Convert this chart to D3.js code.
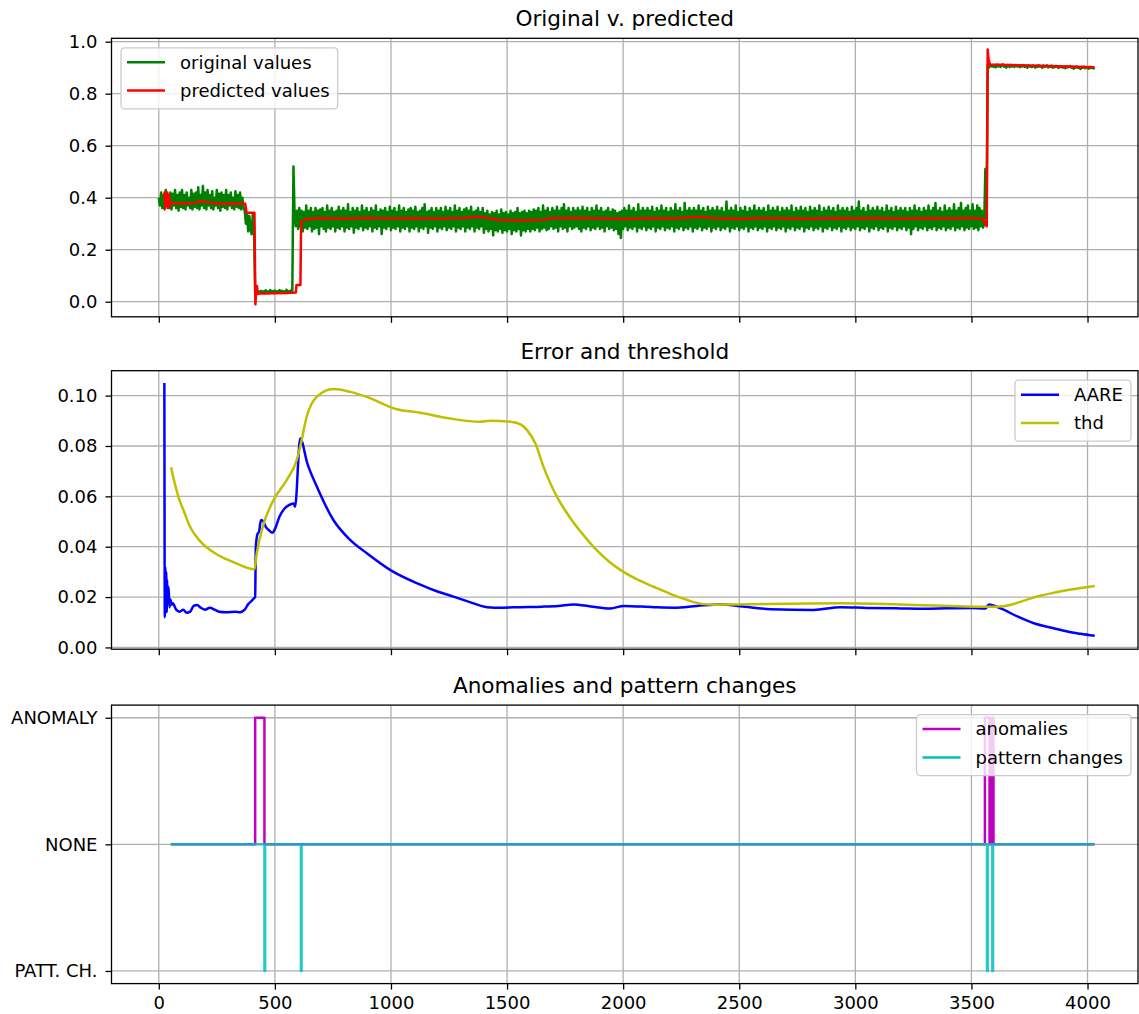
<!DOCTYPE html>
<html>
<head>
<meta charset="utf-8">
<script src="https://cdn.jsdelivr.net/npm/d3@7"></script>
<style>
  body { margin: 0; background: #fff; }
  svg { font-family: "DejaVu Sans", sans-serif; }
</style>
</head>
<body>
<div id="chart"></div>
<script>

// ---- shared x ticks ----
const xTicks = [0, 500, 1000, 1500, 2000, 2500, 3000, 3500, 4000]

// ---- top panel: original values, one sample every 5 steps from 0 (20 per row = 100 steps) ----
const origStep = 5
const origVals = [
  0.40,0.37,0.42,0.36,0.41,0.355,0.43,0.37,0.40,0.36,0.42,0.355,0.415,0.37,0.43,0.36,0.41,0.35,0.42,0.365,
  0.43,0.36,0.41,0.355,0.42,0.37,0.40,0.36,0.43,0.355,0.415,0.365,0.42,0.36,0.44,0.355,0.41,0.37,0.445,0.36,
  0.42,0.355,0.43,0.37,0.41,0.36,0.425,0.355,0.40,0.37,0.43,0.36,0.415,0.35,0.42,0.365,0.41,0.36,0.43,0.355,
  0.41,0.37,0.42,0.36,0.40,0.355,0.425,0.365,0.41,0.36,0.42,0.355,0.40,0.36,0.35,0.30,0.34,0.27,0.33,0.28,
  0.26,0.34,0.29,0.035,0.045,0.03,0.04,0.033,0.042,0.036,0.04,0.032,0.044,0.035,0.04,0.033,0.045,0.036,0.041,0.034,
  0.043,0.035,0.04,0.037,0.045,0.034,0.042,0.038,0.04,0.035,0.046,0.037,0.041,0.036,0.044,0.038,0.52,0.33,0.29,0.35,
  0.28,0.36,0.29,0.35,0.27,0.345,0.285,0.37,0.28,0.35,0.29,0.36,0.27,0.345,0.28,0.36,0.285,0.35,0.26,0.355,
  0.29,0.36,0.28,0.345,0.27,0.37,0.285,0.35,0.28,0.36,0.29,0.345,0.27,0.35,0.285,0.365,0.28,0.35,0.29,0.36,
  0.27,0.35,0.285,0.375,0.28,0.345,0.29,0.36,0.265,0.35,0.285,0.36,0.28,0.345,0.29,0.37,0.275,0.35,0.285,0.36,
  0.28,0.345,0.29,0.36,0.27,0.35,0.285,0.37,0.28,0.345,0.29,0.355,0.26,0.35,0.285,0.36,0.28,0.345,0.29,0.365,
  0.275,0.35,0.285,0.36,0.28,0.345,0.29,0.37,0.27,0.35,0.285,0.36,0.28,0.345,0.29,0.355,0.27,0.36,0.285,0.35,
  0.28,0.365,0.29,0.345,0.27,0.35,0.285,0.36,0.28,0.375,0.29,0.345,0.265,0.35,0.285,0.36,0.28,0.345,0.29,0.36,
  0.27,0.35,0.285,0.36,0.28,0.345,0.29,0.365,0.275,0.35,0.285,0.36,0.28,0.345,0.29,0.37,0.27,0.35,0.285,0.36,
  0.28,0.345,0.29,0.355,0.27,0.36,0.285,0.35,0.28,0.365,0.29,0.345,0.27,0.35,0.285,0.36,0.28,0.345,0.29,0.36,
  0.265,0.34,0.28,0.35,0.27,0.335,0.28,0.345,0.255,0.34,0.275,0.35,0.27,0.335,0.28,0.355,0.265,0.34,0.275,0.345,
  0.27,0.335,0.28,0.35,0.26,0.34,0.275,0.345,0.27,0.36,0.28,0.34,0.255,0.345,0.275,0.35,0.27,0.34,0.28,0.35,
  0.27,0.345,0.28,0.355,0.275,0.35,0.285,0.36,0.27,0.345,0.28,0.37,0.285,0.35,0.275,0.36,0.28,0.345,0.29,0.36,
  0.28,0.35,0.285,0.365,0.27,0.35,0.29,0.36,0.28,0.375,0.285,0.35,0.27,0.36,0.29,0.345,0.28,0.36,0.285,0.35,
  0.29,0.36,0.28,0.35,0.27,0.365,0.285,0.35,0.28,0.36,0.29,0.345,0.275,0.36,0.285,0.35,0.28,0.37,0.29,0.35,
  0.28,0.36,0.285,0.345,0.27,0.35,0.29,0.36,0.28,0.345,0.285,0.355,0.275,0.35,0.28,0.34,0.26,0.345,0.245,0.35,
  0.28,0.36,0.29,0.35,0.275,0.37,0.285,0.35,0.28,0.36,0.29,0.345,0.27,0.375,0.285,0.35,0.28,0.36,0.29,0.35,
  0.275,0.36,0.285,0.35,0.28,0.365,0.29,0.345,0.27,0.36,0.285,0.35,0.28,0.37,0.29,0.35,0.275,0.36,0.285,0.345,
  0.28,0.36,0.29,0.35,0.27,0.375,0.285,0.35,0.28,0.36,0.29,0.345,0.275,0.38,0.285,0.35,0.28,0.36,0.29,0.35,
  0.27,0.36,0.285,0.35,0.28,0.37,0.29,0.35,0.275,0.36,0.285,0.345,0.28,0.365,0.29,0.35,0.27,0.36,0.285,0.35,
  0.28,0.365,0.29,0.35,0.275,0.36,0.285,0.345,0.28,0.385,0.29,0.35,0.27,0.36,0.285,0.35,0.28,0.37,0.29,0.345,
  0.275,0.36,0.285,0.35,0.28,0.365,0.29,0.345,0.27,0.36,0.285,0.35,0.28,0.37,0.29,0.35,0.275,0.36,0.285,0.35,
  0.28,0.36,0.29,0.345,0.27,0.37,0.285,0.35,0.28,0.36,0.29,0.35,0.275,0.365,0.285,0.345,0.28,0.36,0.29,0.35,
  0.27,0.36,0.285,0.35,0.28,0.37,0.29,0.345,0.275,0.36,0.285,0.35,0.28,0.365,0.29,0.35,0.27,0.36,0.285,0.345,
  0.28,0.365,0.29,0.35,0.275,0.36,0.285,0.35,0.28,0.37,0.29,0.345,0.27,0.36,0.285,0.35,0.28,0.365,0.29,0.35,
  0.275,0.36,0.285,0.345,0.28,0.37,0.29,0.35,0.27,0.36,0.285,0.35,0.28,0.36,0.29,0.345,0.275,0.365,0.285,0.35,
  0.28,0.36,0.29,0.385,0.275,0.35,0.285,0.36,0.28,0.345,0.29,0.37,0.27,0.35,0.285,0.36,0.28,0.35,0.29,0.365,
  0.275,0.35,0.285,0.36,0.28,0.345,0.29,0.37,0.27,0.35,0.285,0.36,0.28,0.345,0.29,0.365,0.275,0.35,0.285,0.36,
  0.28,0.35,0.29,0.36,0.275,0.345,0.285,0.36,0.26,0.35,0.28,0.37,0.29,0.35,0.275,0.36,0.285,0.345,0.28,0.36,
  0.29,0.35,0.275,0.37,0.285,0.35,0.28,0.36,0.29,0.38,0.275,0.35,0.285,0.36,0.28,0.345,0.29,0.37,0.275,0.35,
  0.285,0.36,0.28,0.35,0.29,0.375,0.275,0.35,0.285,0.36,0.28,0.38,0.29,0.35,0.275,0.36,0.285,0.37,0.28,0.35,
  0.29,0.375,0.28,0.35,0.285,0.37,0.275,0.36,0.29,0.35,0.285,0.30,0.51,0.32,0.91,0.90,0.912,0.905,0.91,0.903,
  0.908,0.902,0.912,0.905,0.91,0.903,0.909,0.913,0.904,0.908,0.90,0.91,0.906,0.902,0.911,0.905,0.908,0.903,0.91,0.906,
  0.904,0.909,0.902,0.908,0.905,0.91,0.903,0.907,0.90,0.909,0.904,0.906,0.902,0.908,0.905,0.90,0.907,0.903,0.909,0.904,
  0.906,0.90,0.908,0.903,0.905,0.909,0.901,0.906,0.903,0.908,0.90,0.905,0.902,0.907,0.904,0.899,0.906,0.902,0.905,0.90,
  0.904,0.898,0.906,0.901,0.903,0.907,0.90,0.904,0.896,0.903,0.90,0.905,0.899,0.902,0.895,0.903,0.90,0.904,0.898,0.902,
  0.90,0.896,0.903,0.899,0.902,0.897,0.901
]

// predicted values (breakpoints)
const predX = [22,25,28,31,34,37,40,44,48,55,100,150,180,210,250,300,372,378,412,416,
  419,423,427,435,500,550,590,593,610,613,640,700,800,900,1000,1100,1200,1300,1385,1420,
  1470,1560,1660,1680,1800,1900,2000,2100,2200,2333,2400,2500,2600,2700,2800,2900,3000,3100,3200,3300,
  3400,3500,3550,3560,3566,3570,3574,3580,3700,3800,3900,4030]
const predY = [0.40,0.42,0.36,0.42,0.37,0.42,0.36,0.41,0.37,0.38,0.378,0.380,0.386,0.384,0.378,0.378,0.377,0.342,0.342,-0.01,
  0.035,0.06,0.03,0.032,0.033,0.034,0.035,0.064,0.064,0.31,0.318,0.321,0.319,0.322,0.320,0.321,0.319,0.322,0.327,0.321,
  0.314,0.312,0.315,0.321,0.322,0.320,0.318,0.321,0.320,0.327,0.321,0.318,0.322,0.320,0.319,0.321,0.320,0.322,0.319,0.321,
  0.320,0.322,0.318,0.30,0.29,0.97,0.93,0.912,0.909,0.907,0.905,0.902]

// ---- middle panel ----
const aareX = [24,26,28,30,32,34,36,38,42,46,50,55,60,75,90,105,120,135,150,165,
  180,200,220,240,260,290,330,350,370,385,400,410,415,418,425,432,440,450,460,475,
  490,500,520,540,560,580,587,609,640,681,752,824,896,996,1111,1200,1269,1340,1413,1480,
  1557,1650,1720,1787,1860,1945,2003,2131,2220,2318,2419,2505,2634,2821,2936,3050,3195,3300,3400,3500,
  3561,3575,3626,3700,3769,3850,3913,3970,4031]
const aareY = [0.105,0.012,0.032,0.016,0.030,0.014,0.027,0.017,0.024,0.016,0.019,0.017,0.0175,0.0150,0.0142,0.0150,0.0138,0.0142,0.0165,0.0169,
  0.0158,0.0150,0.0158,0.0150,0.0142,0.0140,0.0142,0.0140,0.0150,0.0172,0.0185,0.0195,0.0200,0.040,0.045,0.046,0.0506,0.0500,0.0480,0.0465,
  0.0455,0.0470,0.0520,0.0550,0.0565,0.0572,0.0559,0.083,0.073,0.0638,0.0506,0.0427,0.0374,0.0308,0.0255,0.0222,0.0202,0.0180,0.0160,0.0158,
  0.0160,0.0162,0.0165,0.0171,0.0163,0.0155,0.0165,0.0160,0.0158,0.0165,0.0171,0.0164,0.0152,0.0149,0.0160,0.0157,0.0155,0.0154,0.0156,0.0157,
  0.0155,0.0171,0.0155,0.0122,0.0096,0.0077,0.0063,0.0054,0.0046]

const thdX = [53,65,77,91,106,134,177,249,321,412,422,450,494,551,594,609,637,680,752,824,
  896,1025,1126,1255,1384,1427,1514,1560,1586,1622,1657,1715,1750,1787,1830,1887,1940,1988,2060,2131,
  2200,2252,2300,2347,2400,2491,2936,3195,3569,3640,3680,3720,3760,3800,3860,3920,3980,4031]
const thdY = [0.0716,0.0665,0.0623,0.0580,0.0546,0.0480,0.0423,0.0370,0.0339,0.0310,0.0374,0.0486,0.0585,0.0665,0.0744,0.0797,0.0916,0.0995,0.1026,0.1015,
  0.0995,0.0946,0.0932,0.0909,0.0896,0.0900,0.0896,0.0885,0.0863,0.0810,0.0717,0.0598,0.0545,0.0495,0.0445,0.0385,0.0340,0.0308,0.0270,0.0241,
  0.0214,0.0196,0.0181,0.0172,0.0170,0.0171,0.0175,0.0171,0.0162,0.0164,0.0172,0.0184,0.0196,0.0206,0.0218,0.0229,0.0237,0.0244]

// ---- bottom panel (1 = anomaly, 0 = none, -1 = pattern change), step after ----
const anomX = [52, 415, 455, 3558, 3578, 3586, 3595, 4030]
const anomY = [0, 1, 0, 1, 0, 1, 0, 0]
const pattX = [52, 455, 458, 612, 615, 3567, 3570, 3590, 3593, 4030]
const pattY = [0, -1, 0, -1, 0, -1, 0, -1, 0, 0]

const yTicksTop = [0, 0.2, 0.4, 0.6, 0.8, 1.0]
const yTicksMid = [0, 0.02, 0.04, 0.06, 0.08, 0.10]
const yTicksBot = [-1, 0, 1]
const stateLabels = {"-1": "PATT. CH.", "0": "NONE", "1": "ANOMALY"}


// layout
const W = 1139, H = 1014
const left = 111.5, right = 1138, plotH = 278.5

const svg = d3.select("#chart").append("svg")
  .attr("width", W).attr("height", H)

const x = d3.scaleLinear().domain([-203.7, 4217.4]).range([left, right])

function drawPanel(cfg) {
  const g = svg.append("g").attr("transform", "translate(0," + cfg.top + ")")
  const y = d3.scaleLinear().domain(cfg.yDomain).range([plotH, 0])

  // grid
  g.append("g").selectAll("line").data(xTicks).join("line")
    .attr("x1", d => x(d)).attr("x2", d => x(d))
    .attr("y1", 0).attr("y2", plotH)
    .attr("stroke", "#b0b0b0").attr("stroke-width", 1.3)
  g.append("g").selectAll("line").data(cfg.yTicks).join("line")
    .attr("x1", left).attr("x2", right)
    .attr("y1", d => y(d)).attr("y2", d => y(d))
    .attr("stroke", "#b0b0b0").attr("stroke-width", 1.3)

  g.append("clipPath").attr("id", "clip" + cfg.id)
    .append("rect").attr("x", left).attr("y", 0)
    .attr("width", right - left).attr("height", plotH)

  const plot = g.append("g").attr("clip-path", "url(#clip" + cfg.id + ")")
  cfg.series.forEach(s => {
    const line = d3.line()
      .x(d => x(d[0])).y(d => y(d[1]))
      .curve(s.curve || d3.curveLinear)
    plot.append("path")
      .datum(s.data)
      .attr("d", line)
      .attr("fill", "none")
      .attr("stroke", s.color)
      .attr("stroke-opacity", s.opacity || 1)
      .attr("stroke-width", 2.5)
      .attr("stroke-linejoin", "round")
  })

  // axes
  const xAxis = d3.axisBottom(x).tickValues(xTicks).tickSize(6).tickPadding(7)
    .tickFormat(cfg.xLabels ? d3.format("d") : "")
  const gx = g.append("g").attr("transform", "translate(0," + plotH + ")").call(xAxis)
  const yAxis = d3.axisLeft(y).tickValues(cfg.yTicks).tickSize(6).tickPadding(8).tickFormat(cfg.fmt)
  const gy = g.append("g").attr("transform", "translate(" + left + ",0)").call(yAxis)
  ;[gx, gy].forEach(a => {
    a.select(".domain").remove()
    a.selectAll(".tick line").attr("stroke", "#000").attr("stroke-width", 1.3)
    a.selectAll(".tick text").attr("fill", "#000")
      .style("font-family", "DejaVu Sans").style("font-size", "18px")
  })

  // frame
  g.append("rect").attr("x", left).attr("y", 0)
    .attr("width", right - left).attr("height", plotH)
    .attr("fill", "none").attr("stroke", "#000").attr("stroke-width", 1.3)

  g.append("text")
    .attr("x", (left + right) / 2).attr("y", -12)
    .attr("text-anchor", "middle")
    .style("font-size", "21.6px")
    .text(cfg.title)

  // legend
  const lg = g.append("g")
  const box = lg.append("rect").attr("y", 9.5).attr("height", 61)
    .attr("rx", 3.5).attr("ry", 3.5)
    .attr("fill", "#fff").attr("fill-opacity", 0.8)
    .attr("stroke", "#cccccc").attr("stroke-width", 1.3)
  let maxW = 0
  cfg.series.forEach((s, i) => {
    const row = lg.append("g").attr("transform", "translate(0," + (24 + i * 28.3) + ")")
    row.append("line").attr("x1", 6).attr("x2", 44)
      .attr("stroke", s.color).attr("stroke-width", 2.5)
    const t = row.append("text").attr("x", 59).attr("dy", "0.35em")
      .style("font-size", "18px").text(s.label)
    maxW = Math.max(maxW, t.node().getComputedTextLength())
  })
  const boxW = 59 + maxW + 8
  box.attr("x", 0).attr("width", boxW)
  const lx = cfg.legendLeft ? left + 9.5 : right - 7 - boxW
  lg.attr("transform", "translate(" + lx + ",0)")
}

const pairs = (xs, ys) => xs.map((v, i) => [v, ys[i]])

drawPanel({
  id: 1, top: 38.3, yDomain: [-0.058, 1.013], yTicks: yTicksTop,
  fmt: d3.format(".1f"), title: "Original v. predicted", legendLeft: true,
  series: [
    {label: "original values", color: "#008000", data: origVals.map((v, i) => [i * origStep, v])},
    {label: "predicted values", color: "#ff0000", data: pairs(predX, predY)}
  ]
})

drawPanel({
  id: 2, top: 370.7, yDomain: [-0.0007, 0.1099], yTicks: yTicksMid,
  fmt: d3.format(".2f"), title: "Error and threshold",
  series: [
    {label: "AARE", color: "#0000ff", data: pairs(aareX, aareY), curve: d3.curveMonotoneX},
    {label: "thd", color: "#bfbf00", data: pairs(thdX, thdY), curve: d3.curveMonotoneX}
  ]
})

drawPanel({
  id: 3, top: 705.1, yDomain: [-1.1, 1.1], yTicks: yTicksBot,
  fmt: d => stateLabels[d], title: "Anomalies and pattern changes", xLabels: true,
  series: [
    {label: "anomalies", color: "#bf00bf", data: pairs(anomX, anomY), curve: d3.curveStepAfter},
    {label: "pattern changes", color: "#00bfbf", data: pairs(pattX, pattY), curve: d3.curveStepAfter, opacity: 0.85}
  ]
})

</script>
</body>
</html>
